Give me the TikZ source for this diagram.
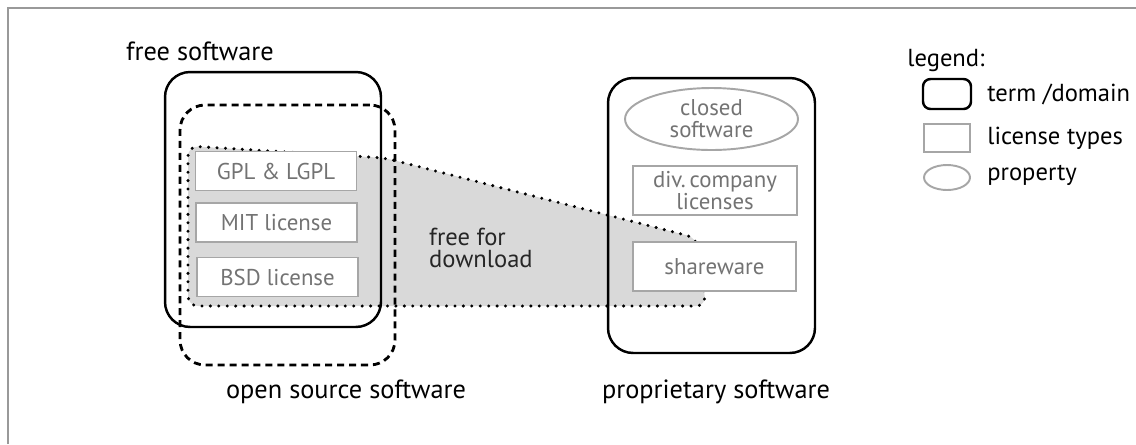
\documentclass[tikz,border=0pt]{standalone}
\usepackage{fontspec}
\setmainfont{PT Sans}
\usetikzlibrary{shapes.geometric}

\begin{document}
\begin{tikzpicture}[x=0.02cm, y=-0.02cm, font=\fontsize{15}{16.5}\selectfont]
	\tikzstyle{term} = [draw, line width=1.4pt, rounded corners=0.5cm, inner sep=0pt]
	\tikzstyle{osbox} = [term, line width=1.6pt, dash pattern=on 4pt off 2.8pt]
	\tikzstyle{lic} = [draw=black!35, fill=white, line width=1.1pt, text=black!55, minimum width=3.22cm, minimum height=0.78cm, inner sep=0pt, align=center, font=\fontsize{13}{14.5}\selectfont]
	\tikzstyle{prop} = [ellipse, draw=black!35, line width=1.1pt, text=black!55, inner sep=0pt, align=center, font=\fontsize{13}{14.5}\selectfont]
	\tikzstyle{legtext} = [anchor=west, inner sep=0pt, font=\fontsize{14}{15}\selectfont]
	\useasboundingbox (0,0) rectangle (1136,444);
	\draw [black!40, line width=1.6pt] (8,444) -- (8,8) -- (1136,8);
	\draw [fill=gray!30, line width=1.9pt, dash pattern=on 0pt off 4.8pt, line cap=round, rounded corners=0.2cm] (385,158) -- (697,238) -- (706,306) -- (188,306) -- (188,146) -- cycle;
	\node [term, minimum width=4.32cm, minimum height=5.10cm] (FS) at (273,199.5) {};
	\node [osbox, minimum width=4.30cm, minimum height=5.20cm] (OSS) at (287.5,235) {};
	\node [term, minimum width=4.14cm, minimum height=5.50cm] (PS) at (711.5,215.5) {};
	\node [lic] (GPL) at (276,171) {GPL \& LGPL};
	\node [lic] (MIT) at (276.5,222.5) {MIT license};
	\node [lic] (BSD) at (277.5,277) {BSD license};
	\node [prop, minimum width=3.46cm, minimum height=1.24cm] (CS) at (711.5,119) {closed\\[-2pt]software};
	\node [lic, minimum width=3.28cm, minimum height=0.98cm] (DIV) at (715,190.5) {div.\,company\\[-2pt]licenses};
	\node [lic, minimum width=3.26cm, minimum height=0.98cm] (SW) at (714.5,266.5) {shareware};
	\node (FSt) at (200,51) {free software};
	\node (OSSt) at (346,392) {open source software};
	\node (PSt) at (716,392) {proprietary software};
	\node [anchor=west, align=left, text=black!85, font=\fontsize{14}{15}\selectfont] (FD) at (423,248) {free for\\[-2pt]download};
	\node [legtext] (LG) at (907,60) {legend:};
	\node [term, rounded corners=0.15cm, minimum width=0.96cm, minimum height=0.6cm] (L1) at (947,94) {};
	\node [legtext] (L1t) at (987,94) {term /domain};
	\node [lic, minimum width=0.92cm, minimum height=0.56cm] (L2) at (947,138) {};
	\node [legtext] (L2t) at (987,138) {license types};
	\node [prop, minimum width=0.92cm, minimum height=0.5cm] (L3) at (947,177.5) {};
	\node [legtext] (L3t) at (987,175) {property};
\end{tikzpicture}
\end{document}
